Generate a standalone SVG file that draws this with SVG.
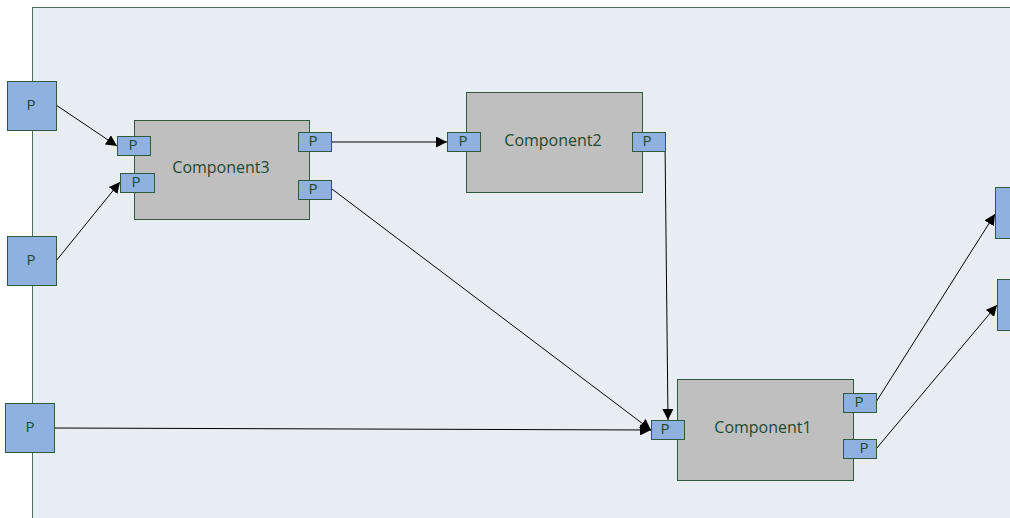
<svg xmlns="http://www.w3.org/2000/svg" width="1010" height="518" viewBox="0 0 1010 518">
<defs>
<marker id="arr" viewBox="0 0 10 10" refX="10" refY="5" markerWidth="11" markerHeight="11" markerUnits="userSpaceOnUse" orient="auto">
<path d="M0,0 L10,5 L0,10 z" fill="#000"/>
</marker>
<style>
.bg{fill:#e8edf4;stroke:#4a6e5a;stroke-width:1}
.comp{fill:#bfbfbf;stroke:#2f5a3f;stroke-width:1}
.port{fill:#8eb1e0;stroke:#2f5a3f;stroke-width:1}
.lbl{font-family:"Open Sans","Liberation Sans",sans-serif;fill:#1d4a32;text-anchor:middle}
.big{font-size:16px}
.sm{font-size:15px}
.conn{stroke:#000;stroke-width:1;fill:none;marker-end:url(#arr)}
</style>
</defs>
<rect width="1010" height="518" fill="#ffffff"/>
<rect class="bg" x="32.5" y="7.5" width="990" height="520"/>

<g id="connectors">
<line class="conn" x1="56" y1="105" x2="117" y2="146"/>
<line class="conn" x1="56" y1="261" x2="120" y2="182"/>
<line class="conn" x1="332" y1="142" x2="447" y2="142"/>
<line class="conn" x1="332" y1="189" x2="651" y2="430"/>
<line class="conn" x1="665" y1="142" x2="668" y2="420"/>
<line class="conn" x1="54" y1="428" x2="651" y2="430"/>
<line class="conn" x1="876" y1="402" x2="995" y2="214"/>
<line class="conn" x1="876" y1="449" x2="997" y2="305"/>
</g>

<g id="inP1"><rect class="port" x="7.5" y="81.5" width="49" height="49"/><text class="lbl sm" x="31" y="110">P</text></g>
<g id="inP2"><rect class="port" x="7.5" y="236.5" width="49" height="49"/><text class="lbl sm" x="31" y="265">P</text></g>
<g id="inP3"><rect class="port" x="5.5" y="403.5" width="49" height="49"/><text class="lbl sm" x="30" y="432">P</text></g>

<g id="component3">
<rect class="comp" x="134.5" y="120.5" width="175" height="99"/>
<text class="lbl big" x="221" y="173">Component3</text>
<rect class="port" x="117.5" y="136.5" width="33" height="19"/><text class="lbl sm" x="133" y="150">P</text>
<rect class="port" x="120.5" y="173.5" width="34" height="19"/><text class="lbl sm" x="136" y="187">P</text>
<rect class="port" x="298.5" y="132.5" width="33" height="19"/><text class="lbl sm" x="313" y="146">P</text>
<rect class="port" x="298.5" y="180.5" width="33" height="19"/><text class="lbl sm" x="313" y="194">P</text>
</g>

<g id="component2">
<rect class="comp" x="466.5" y="92.5" width="176" height="100"/>
<text class="lbl big" x="553" y="146">Component2</text>
<rect class="port" x="447.5" y="132.5" width="33" height="19"/><text class="lbl sm" x="463" y="146">P</text>
<rect class="port" x="632.5" y="132.5" width="33" height="19"/><text class="lbl sm" x="647" y="146">P</text>
</g>

<g id="component1">
<rect class="comp" x="677.5" y="379.5" width="176" height="101"/>
<text class="lbl big" x="763" y="433">Component1</text>
<rect class="port" x="651.5" y="420.5" width="33" height="19"/><text class="lbl sm" x="665" y="434">P</text>
<rect class="port" x="843.5" y="393.5" width="33" height="19"/><text class="lbl sm" x="859" y="407">P</text>
<rect class="port" x="843.5" y="439.5" width="33" height="19"/><text class="lbl sm" x="864" y="453">P</text>
</g>

<g id="outP1"><rect class="port" x="995.5" y="187.5" width="49" height="51"/></g>
<g id="outP2"><rect class="port" x="997.5" y="279.5" width="49" height="51"/></g>
</svg>
